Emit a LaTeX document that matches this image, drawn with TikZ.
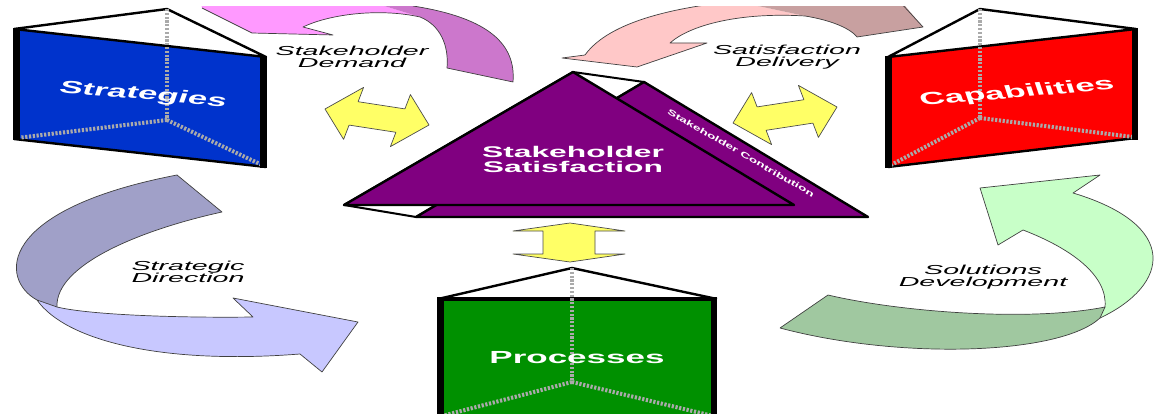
\documentclass[tikz,border=0pt]{standalone}
\usepackage{fontspec}
\setmainfont{Liberation Sans}
\definecolor{stratblue}{RGB}{0,51,204}
\definecolor{capred}{RGB}{255,0,0}
\definecolor{procgreen}{RGB}{0,144,0}
\definecolor{satpurple}{RGB}{128,0,128}
\definecolor{yel}{RGB}{255,255,102}
\definecolor{dotgray}{RGB}{170,170,170}
\definecolor{pinkL}{RGB}{255,153,255}
\definecolor{pinkD}{RGB}{204,119,204}
\definecolor{roseL}{RGB}{255,200,200}
\definecolor{roseD}{RGB}{200,160,160}
\definecolor{lavL}{RGB}{200,200,255}
\definecolor{lavD}{RGB}{160,160,200}
\definecolor{grnL}{RGB}{200,255,200}
\definecolor{grnD}{RGB}{160,200,160}
\begin{document}
\begin{tikzpicture}[x=1pt,y=-1pt,line join=round,
  edgeline/.style={draw=black,line width=2.4pt},
  sidebar/.style={draw=black,line width=6.5pt},
  hidden/.style={draw=dotgray,line width=4pt,dash pattern=on 2.2pt off 1.6pt},
  bandline/.style={draw=black!75,line width=0.7pt},
  boxlabel/.style={text=white,font=\bfseries\fontsize{17.5}{20}\selectfont,xscale=2,inner sep=0pt},
  flowlabel/.style={font=\itshape\fontsize{13}{12.5}\selectfont,align=center,xscale=2.2,inner sep=0pt},
  yarrow/.style={fill=yel,draw=black!70,line width=0.7pt}]
\useasboundingbox (0,0) rectangle (1158,414);

% ---------- curved flow arrows ----------
\begin{scope}
\clip (0,7) rectangle (1158,414);
% Stakeholder Demand
\fill[pinkL] (200,0) -- (202,8) -- (252,33) -- (333,35) -- (303,27)
  .. controls (330,14) and (380,8) .. (420,17) -- (365,0) -- cycle;
\fill[pinkD] (365,0) -- (420,17) .. controls (440,25) and (449,45) .. (447,68)
  -- (513,82) .. controls (516,45) and (490,18) .. (413,6) -- (400,0) -- cycle;
\draw[bandline] (202,8) -- (252,33) -- (333,35) -- (303,27)
  .. controls (330,14) and (380,8) .. (420,17) .. controls (440,25) and (449,45) .. (447,68)
  -- (513,82) .. controls (516,45) and (490,18) .. (413,6);
% Satisfaction Delivery
\fill[roseL] (562,58) -- (637,67) -- (707,43) -- (670,43)
  .. controls (690,25) and (740,12) .. (805,16) -- (730,0) -- (720,3)
  .. controls (680,8) and (610,20) .. (585,55) -- cycle;
\fill[roseD] (730,0) -- (805,16) .. controls (830,20) and (850,28) .. (857,37)
  -- (923,27) -- (900,0) -- cycle;
\draw[bandline] (585,55) -- (562,58) -- (637,67) -- (707,43) -- (670,43)
  .. controls (690,25) and (740,12) .. (805,16) .. controls (830,20) and (850,28) .. (857,37)
  -- (923,27) -- (900,2);
\draw[bandline] (720,3) .. controls (680,8) and (610,20) .. (585,55);
\end{scope}

% Strategic Direction
\fill[lavD] (177,175) -- (222,212) .. controls (140,230) and (55,265) .. (57,307)
  -- (37,300) .. controls (0,280) and (-5,210) .. (177,175) -- cycle;
\fill[lavL] (37,300) .. controls (65,340) and (160,365) .. (300,354) -- (322,372)
  -- (358,322) -- (233,298) -- (253,317) .. controls (180,318) and (90,315) .. (57,307) -- cycle;
\draw[bandline] (177,175) -- (222,212) .. controls (140,230) and (55,265) .. (57,307);
\draw[bandline] (177,175) .. controls (-5,210) and (0,280) .. (37,300)
  .. controls (65,340) and (160,365) .. (300,354) -- (322,372)
  -- (358,322) -- (233,298) -- (253,317) .. controls (180,318) and (90,315) .. (57,307) -- (37,300);

% Solutions Development
\fill[grnL] (1100,318) -- (1105,307) .. controls (1108,275) and (1070,248) .. (1023,230)
  -- (998,245) -- (980,188) -- (1100,175) -- (1073,193)
  .. controls (1180,225) and (1170,285) .. (1100,318) -- cycle;
\draw[bandline] (1105,307) .. controls (1108,275) and (1070,248) .. (1023,230)
  -- (998,245) -- (980,188) -- (1100,175) -- (1073,193)
  .. controls (1180,225) and (1170,285) .. (1100,318);
\fill[grnD] (780,328) -- (828,295) .. controls (900,312) and (1030,322) .. (1105,307)
  -- (1100,318) .. controls (1060,355) and (900,360) .. (780,328) -- cycle;
\draw[bandline] (780,328) -- (828,295) .. controls (900,312) and (1030,322) .. (1105,307)
  -- (1100,318) .. controls (1060,355) and (900,360) .. (780,328);

\node[flowlabel] (demand) at (352,57) {Stakeholder\\Demand};
\node[flowlabel] (delivery) at (787,57) {Satisfaction\\Delivery};
\node[flowlabel] (direction) at (188,272) {Strategic\\Direction};
\node[flowlabel] (development) at (983,277) {Solutions\\Development};

% ---------- yellow double arrows ----------
\begin{scope}[shift={(377,117)},x={(52pt,-8pt)},y={(10pt,26pt)}]
\draw[yarrow] (-1,0) -- (-0.45,-1) -- (-0.45,-0.45) -- (0.45,-0.45) -- (0.45,-1) -- (1,0)
  -- (0.45,1) -- (0.45,0.45) -- (-0.45,0.45) -- (-0.45,1) -- cycle;
\end{scope}
\begin{scope}[shift={(785,115)},x={(52pt,8pt)},y={(-10pt,26pt)}]
\draw[yarrow] (-1,0) -- (-0.45,-1) -- (-0.45,-0.45) -- (0.45,-0.45) -- (0.45,-1) -- (1,0)
  -- (0.45,1) -- (0.45,0.45) -- (-0.45,0.45) -- (-0.45,1) -- cycle;
\end{scope}
\draw[yarrow] (570,223) -- (625,231) -- (595,231) -- (595,254) -- (625,254) -- (570,262)
  -- (513,254) -- (543,254) -- (543,231) -- (513,231) -- cycle;

% ---------- Strategies prism ----------
\coordinate (sApex) at (167,9);
\coordinate (sTL) at (14,29);
\coordinate (sTR) at (266,57);
\coordinate (sBR) at (266,167);
\coordinate (sBL) at (14,139);
\coordinate (sMid) at (167,120);
\fill[white] (sTL) -- (sApex) -- (sTR) -- cycle;
\fill[stratblue] (sTL) -- (sTR) -- (sBR) -- (sBL) -- cycle;
\draw[edgeline] (sTL) -- (sApex) -- (sTR) -- (sTL);
\draw[edgeline] (sBL) -- (sBR);
\draw[hidden] (sApex) -- (sMid);
\draw[hidden] (sMid) -- (17,138) (sMid) -- (262,165);
\draw[sidebar] (16.5,28) -- (16.5,140);
\draw[sidebar] (263.5,56) -- (263.5,168);
\node[boxlabel,rotate=-10] (strategies) at (143,95) {Strategies};

% ---------- Capabilities prism ----------
\coordinate (cApex) at (980,9);
\coordinate (cTL) at (888,57);
\coordinate (cTR) at (1136,29);
\coordinate (cBR) at (1136,138);
\coordinate (cBL) at (888,167);
\coordinate (cMid) at (980,118);
\fill[white] (cTL) -- (cApex) -- (cTR) -- cycle;
\fill[capred] (cTL) -- (cTR) -- (cBR) -- (cBL) -- cycle;
\draw[edgeline] (cTL) -- (cApex) -- (cTR) -- (cTL);
\draw[edgeline] (cBL) -- (cBR);
\draw[hidden] (cApex) -- (cMid);
\draw[hidden] (cMid) -- (891,165) (cMid) -- (1133,137);
\draw[sidebar] (888.5,56) -- (888.5,168);
\draw[sidebar] (1135,28) -- (1135,140);
\node[boxlabel,rotate=9.5] (capabilities) at (1017,93) {Capabilities};

% ---------- Processes prism ----------
\coordinate (pApex) at (572,268);
\coordinate (pTL) at (438,299);
\coordinate (pTR) at (717,299);
\coordinate (pBR) at (717,420);
\coordinate (pBL) at (438,420);
\coordinate (pMid) at (572,382);
\fill[white] (pTL) -- (pApex) -- (pTR) -- cycle;
\fill[procgreen] (pTL) -- (pTR) -- (pBR) -- (pBL) -- cycle;
\draw[edgeline] (pTL) -- (pApex) -- (pTR);
\draw[draw=black,line width=4pt] (pTL) -- (pTR);
\draw[hidden] (pApex) -- (pMid);
\draw[hidden] (pMid) -- (442,416) (pMid) -- (713,416);
\draw[sidebar] (440.5,297) -- (440.5,420);
\draw[sidebar] (714,297) -- (714,420);
\node[boxlabel] (processes) at (577,358) {Processes};

% ---------- Stakeholder Satisfaction pyramid ----------
\coordinate (fApex) at (573,72);
\coordinate (fL) at (344,205);
\coordinate (fR) at (794,205);
\coordinate (bApex) at (644,82);
\coordinate (bL) at (416,217);
\coordinate (bR) at (868,217);
\draw[fill=white,line width=2pt] (fApex) -- (bApex) -- (bL) -- (fL) -- cycle;
\draw[fill=satpurple,line width=2.4pt] (bApex) -- (bL) -- (bR) -- cycle;
\draw[fill=satpurple,line width=2.4pt] (fApex) -- (fL) -- (fR) -- cycle;
\node[text=white,font=\bfseries\fontsize{15.5}{15}\selectfont,align=center,xscale=2.05,inner sep=0pt]
  (satisfaction) at (573,159) {Stakeholder\\Satisfaction};
\node[text=white,font=\bfseries\fontsize{8}{9}\selectfont,rotate=-30,xscale=1.75,inner sep=0pt]
  (contribution) at (741,153) {Stakeholder Contribution};
\end{tikzpicture}
\end{document}
